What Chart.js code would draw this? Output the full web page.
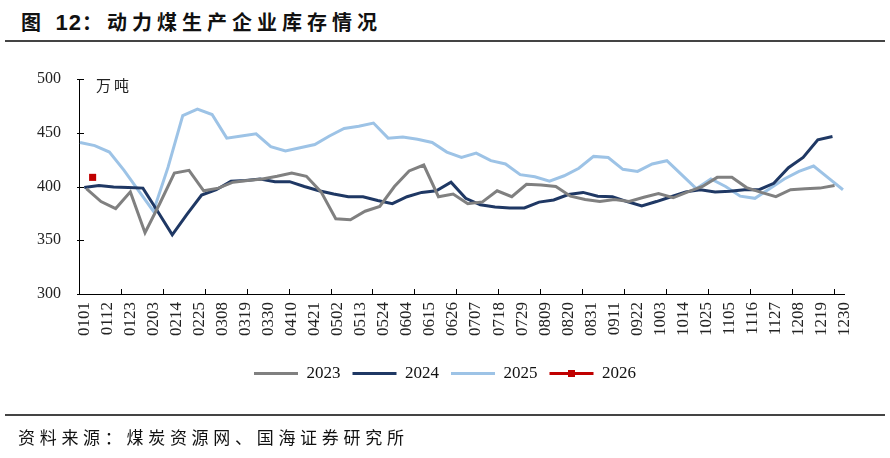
<!DOCTYPE html>
<html>
<head>
<meta charset="utf-8">
<script src="https://cdn.jsdelivr.net/npm/chart.js@4.4.0/dist/chart.umd.min.js"></script>
<style>
  body { margin: 0; background: #fff; }
  #wrap { position: relative; width: 890px; height: 458px; overflow: hidden; }
  #cw { position: absolute; left: 0; top: 0; width: 890px; height: 458px; }
  #title { position: absolute; left: 21px; top: 7px; font: bold 20px "Noto Sans CJK SC"; letter-spacing: 5px; color: #111; white-space: nowrap; }
  #title b { font: bold 22px "Liberation Sans", Arial; letter-spacing: 1px; }
  .rule { position: absolute; left: 5px; width: 880px; height: 2px; background: #444; }
  #unit { position: absolute; left: 96px; top: 74px; font: 15px "Noto Sans CJK SC"; letter-spacing: 3px; color: #222; }
  #source { position: absolute; left: 18px; top: 424px; font: 17px "Noto Sans CJK SC"; letter-spacing: 4.7px; color: #111; white-space: nowrap; }
</style>
</head>
<body>
<div id="wrap">
  <div id="title">图 <b>12</b>：动力煤生产企业库存情况</div>
  <div class="rule" style="top:40px"></div>
  <div id="cw"><canvas id="stockChart"></canvas></div>
  <div id="unit">万吨</div>
  <div class="rule" style="top:414px"></div>
  <div id="source">资料来源：煤炭资源网、国海证券研究所</div>
</div>
<script>
// x tick labels (MMDD), shown every 11 days
const tickLabels = ["0101", "0112", "0123", "0203", "0214", "0225", "0308", "0319", "0330", "0410",
  "0421", "0502", "0513", "0524", "0604", "0615", "0626", "0707", "0718", "0729", "0809", "0820",
  "0831", "0911", "0922", "1003", "1014", "1025", "1105", "1116", "1127", "1208", "1219", "1230"];
const tickEvery = 20; // tick marks every 20 days (separate from labels)

// day of year (0 = Jan 1) for each weekly observation
const days2023 = [3, 10, 17, 24, 31, 38, 45, 52, 59, 66, 73, 80, 87, 94, 101, 108, 115, 122, 129, 136,
  143, 150, 157, 164, 171, 178, 185, 192, 199, 206, 213, 220, 227, 234, 241, 248, 255, 262, 269, 276,
  283, 290, 297, 304, 311, 318, 325, 332, 339, 346, 353, 360];
const stock2023 = [398, 386, 379.5, 395, 357, 384, 412.5, 415, 396, 398.5, 404, 405.5, 407, 409.5, 412.5,
  409.5, 395, 370, 369, 377, 381.5, 400, 414.5, 420, 390.5, 393, 384, 385.7, 396, 390.5, 402, 401.5, 400,
  391, 388, 386, 388, 386, 390, 393.5, 389.5, 395, 400, 408.5, 408.5, 399, 394.5, 390.5, 397, 398, 398.5, 401];

const days2024 = [2, 9, 16, 23, 30, 37, 44, 51, 58, 65, 72, 79, 86, 93, 100, 107, 114, 121, 128, 135,
  142, 149, 156, 163, 170, 177, 184, 191, 198, 205, 212, 219, 226, 233, 240, 247, 254, 261, 268, 275,
  282, 289, 296, 303, 310, 317, 324, 331, 338, 345, 352, 359];
const stock2024 = [399, 401, 399.5, 399, 398.5, 377, 355, 374, 392, 397, 405, 405.5, 407, 404.5, 404.5,
  400, 396, 393, 390.5, 390.5, 387, 384, 390.5, 394.5, 396, 404, 389, 383, 381, 380, 380, 385.5, 387.5,
  392.5, 394.5, 391, 390.5, 386, 382, 386, 390.5, 395, 397, 395, 395.5, 397, 397, 403, 417.5, 427, 443.5, 446.5];

const days2025 = [0, 7, 14, 21, 28, 35, 42, 49, 56, 63, 70, 77, 84, 91, 98, 105, 112, 119, 126, 133,
  140, 147, 154, 161, 168, 175, 182, 189, 196, 203, 210, 217, 224, 231, 238, 245, 252, 259, 266, 273,
  280, 287, 294, 301, 308, 315, 322, 329, 336, 343, 350, 357, 364];
const stock2025 = [441, 438, 432, 415, 396, 377, 418, 466, 472, 467, 445, 447, 449, 437, 433, 436, 439,
  447, 454, 456, 459, 445, 446, 444, 441, 432, 427, 431, 424, 421, 411, 409, 405, 410, 417, 428, 427, 416,
  414, 421, 424, 411, 398, 407, 400, 391, 389, 398, 407, 414, 419, 408, 397];

const days2026 = [6];
const stock2026 = [408.5];

function dayOfYear(mmdd) {
  const m = parseInt(mmdd.slice(0, 2), 10), d = parseInt(mmdd.slice(2), 10);
  return Math.round((Date.UTC(2023, m - 1, d) - Date.UTC(2023, 0, 1)) / 86400000);
}
const labelDays = tickLabels.map(dayOfYear);

function points(days, vals) {
  return days.map((d, i) => ({ x: d, y: vals[i] }));
}

const serif = "'Liberation Serif', 'Times New Roman', serif";

// inner tick marks, legend centred on the page, square marker on the 2026 legend entry
const extras = {
  id: "extras",
  afterLayout(chart) {
    const lg = chart.legend;
    const shift = (chart.width - (lg.left + lg.right)) / 2;
    lg.left += shift;
    lg.right += shift;
  },
  afterDraw(chart) {
    const { ctx, chartArea: a, scales: { x, y } } = chart;
    ctx.save();
    ctx.strokeStyle = "#000";
    ctx.lineWidth = 1;
    ctx.beginPath();
    y.ticks.forEach(t => {
      const py = Math.round(y.getPixelForValue(t.value)) + 0.5;
      ctx.moveTo(a.left - 2, py);
      ctx.lineTo(a.left + 5, py);
    });
    for (let d = tickEvery - 0.5; d < 364.5; d += tickEvery) {
      const px = Math.round(x.getPixelForValue(d)) + 0.5;
      ctx.moveTo(px, a.bottom);
      ctx.lineTo(px, a.bottom - 5);
    }
    ctx.stroke();

    const lg = chart.legend;
    const hb = lg.legendHitBoxes[3];
    if (hb) {
      const bw = lg.options.labels.boxWidth;
      ctx.fillStyle = "#c00000";
      ctx.fillRect(hb.left + bw / 2 - 3.5, hb.top + hb.height / 2 - 3.5, 7, 7);
    }
    ctx.restore();
  }
};

const ctx1 = document.getElementById("stockChart");

new Chart(ctx1, {
  type: "line",
  data: {
    datasets: [
      { label: "2023", data: points(days2023, stock2023), borderColor: "#808080", backgroundColor: "#808080" },
      { label: "2024", data: points(days2024, stock2024), borderColor: "#1f3864", backgroundColor: "#1f3864" },
      { label: "2025", data: points(days2025, stock2025), borderColor: "#9dc3e6", backgroundColor: "#9dc3e6" },
      {
        label: "2026", data: points(days2026, stock2026), borderColor: "#c00000", backgroundColor: "#c00000",
        pointRadius: 5, pointStyle: "rect", pointBorderWidth: 0
      }
    ]
  },
  options: {
    responsive: true,
    maintainAspectRatio: false,
    animation: false,
    layout: { padding: { left: 0, right: 46, top: 79, bottom: 66 } },
    elements: {
      line: { borderWidth: 3, tension: 0 },
      point: { radius: 0, hoverRadius: 0 }
    },
    scales: {
      x: {
        type: "linear",
        min: -0.5,
        max: 364.5,
        grid: { display: false, drawTicks: false },
        border: { display: true, color: "#000", width: 1 },
        afterBuildTicks(scale) {
          scale.ticks = labelDays.map(v => ({ value: v }));
        },
        afterFit(scale) { scale.height = 59; },
        ticks: {
          autoSkip: false,
          maxRotation: 90,
          minRotation: 90,
          padding: 8,
          labelOffset: 4,
          color: "#222",
          font: { family: serif, size: 17 },
          callback: v => tickLabels[labelDays.indexOf(v)]
        }
      },
      y: {
        min: 300,
        max: 500,
        grid: { display: false, drawTicks: false },
        border: { display: true, color: "#000", width: 1 },
        afterFit(scale) { scale.width = 79; },
        ticks: {
          stepSize: 50,
          padding: 18,
          color: "#222",
          font: { family: serif, size: 16 }
        }
      }
    },
    plugins: {
      tooltip: { enabled: false },
      legend: {
        position: "bottom",
        labels: {
          boxWidth: 44,
          boxHeight: 3,
          padding: 12,
          color: "#111",
          font: { family: serif, size: 17 },
          sort: (a, b) => a.datasetIndex - b.datasetIndex,
          generateLabels(chart) {
            const items = Chart.defaults.plugins.legend.labels.generateLabels(chart);
            items.forEach(it => { it.fillStyle = it.strokeStyle; it.lineWidth = 0; });
            return items;
          }
        }
      }
    }
  },
  plugins: [extras]
});
</script>
</body>
</html>
